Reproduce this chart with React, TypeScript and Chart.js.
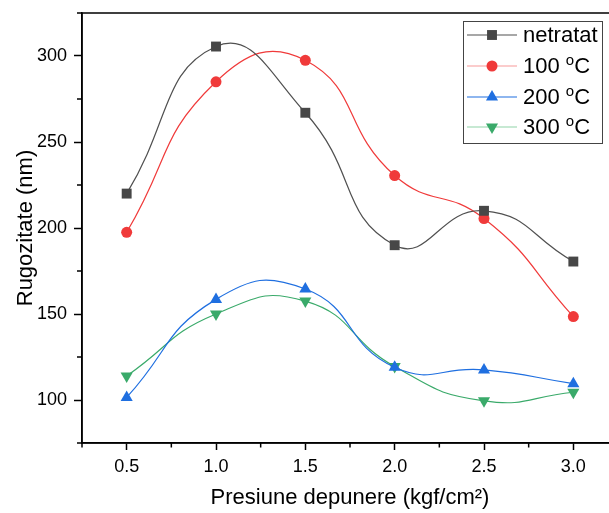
import React, { useEffect, useRef } from "react";
import { Chart, registerables } from "chart.js";

Chart.register(...registerables);

const pressures = [0.5, 1.0, 1.5, 2.0, 2.5, 3.0];
const netratat = [220, 305.5, 267, 190, 210, 180.5];
const t100 = [197.5, 285, 297.5, 230.5, 205.5, 148.5];
const t200 = [101.5, 158.5, 164.5, 119, 117.5, 109.5];
const t300 = [114, 150, 157.5, 119.5, 99.5, 104.5];
const xMajorTicks = [0.5, 1.0, 1.5, 2.0, 2.5, 3.0];
const xMinorTicks = [0.25, 0.75, 1.25, 1.75, 2.25, 2.75, 3.25];
const yMajorTicks = [100, 150, 200, 250, 300];
const yMinorTicks = [75, 125, 175, 225, 275, 325];
const seriesNames = ["netratat", "100", "200", "300"];

const FONT = "'Liberation Sans', Arial, sans-serif";

const styles = [
  { line: "#505050", fill: "#474747", legendLine: "#505050", shape: "rect", radius: 7, rotation: 0 },
  { line: "#f03a3a", fill: "#f03a3a", legendLine: "#f79a9a", shape: "circle", radius: 5.5, rotation: 0 },
  { line: "#1f6fe0", fill: "#1f6fe0", legendLine: "#1f6fe0", shape: "triangle", radius: 7, rotation: 0 },
  { line: "#3aaa6a", fill: "#3aaa6a", legendLine: "#8fd3a8", shape: "triangle", radius: 7, rotation: 180 },
];

function drawMarker(ctx: CanvasRenderingContext2D, shape: string, r: number, rot: number, x: number, y: number) {
  ctx.beginPath();
  if (shape === "rect") {
    const s = Math.SQRT1_2 * r;
    ctx.rect(x - s, y - s, 2 * s, 2 * s);
  } else if (shape === "circle") {
    ctx.arc(x, y, r, 0, Math.PI * 2);
  } else {
    const dir = rot === 180 ? -1 : 1;
    const w = Math.cos(Math.PI / 6) * r;
    ctx.moveTo(x, y - dir * r);
    ctx.lineTo(x - w, y + dir * r * 0.5);
    ctx.lineTo(x + w, y + dir * r * 0.5);
    ctx.closePath();
  }
  ctx.fill();
}

const frameAndLegend = {
  id: "frameAndLegend",
  afterDraw(chart: any) {
    const ctx = chart.ctx;
    const a = chart.chartArea;
    const xs = chart.scales.x;
    const ys = chart.scales.y;
    ctx.save();
    ctx.strokeStyle = "#000";
    ctx.lineWidth = 1.5;
    ctx.beginPath();
    xMinorTicks.forEach((v) => {
      const px = xs.getPixelForValue(v);
      ctx.moveTo(px, a.bottom);
      ctx.lineTo(px, a.bottom + 4.5);
    });
    yMinorTicks.forEach((v) => {
      const py = ys.getPixelForValue(v);
      ctx.moveTo(a.left, py);
      ctx.lineTo(a.left - 5, py);
    });
    ctx.stroke();
    ctx.lineWidth = 1.5;
    ctx.strokeRect(a.left, a.top, a.right - a.left, a.bottom - a.top);

    // legend
    const bx = 463, by = 21, bw = 139, bh = 122;
    ctx.fillStyle = "#fff";
    ctx.fillRect(bx, by, bw, bh);
    ctx.strokeStyle = "#444";
    ctx.lineWidth = 1;
    ctx.strokeRect(bx + 0.5, by + 0.5, bw, bh);
    const rows = [35, 66, 97, 127];
    rows.forEach((ry, i) => {
      const st = styles[i];
      ctx.strokeStyle = st.legendLine;
      ctx.lineWidth = 1.2;
      ctx.beginPath();
      ctx.moveTo(467, ry);
      ctx.lineTo(517, ry);
      ctx.stroke();
      ctx.fillStyle = st.fill;
      drawMarker(ctx, st.shape, st.radius, st.rotation, 492, ry);
      ctx.fillStyle = "#000";
      ctx.textBaseline = "middle";
      ctx.textAlign = "left";
      ctx.font = `22px ${FONT}`;
      if (i === 0) {
        ctx.fillText(seriesNames[0], 523, ry + 1);
      } else {
        const t = seriesNames[i] + " ";
        ctx.fillText(t, 523, ry + 1);
        let w = ctx.measureText(t).width;
        ctx.font = `15px ${FONT}`;
        ctx.fillText("o", 523 + w, ry - 5);
        w += ctx.measureText("o").width;
        ctx.font = `22px ${FONT}`;
        ctx.fillText("C", 523 + w, ry + 1);
      }
    });
    ctx.restore();
  },
};

export default function App() {
  const ref = useRef<HTMLCanvasElement | null>(null);
  useEffect(() => {
    if (!ref.current) return;
    const all = [netratat, t100, t200, t300];
    const chart = new Chart(ref.current, {
      type: "line",
      data: {
        datasets: all.map((vals, i) => ({
          label: seriesNames[i],
          data: pressures.map((p, j) => ({ x: p, y: vals[j] })),
          borderColor: styles[i].line,
          backgroundColor: styles[i].fill,
          pointBackgroundColor: styles[i].fill,
          pointBorderColor: styles[i].fill,
          pointBorderWidth: 0,
          borderWidth: 1.2,
          pointStyle: styles[i].shape as any,
          pointRadius: styles[i].radius,
          pointRotation: styles[i].rotation,
          tension: 0.5,
          fill: false,
        })),
      },
      options: {
        animation: false,
        responsive: false,
        layout: { padding: { top: 13, right: 0, left: 0, bottom: 0 } },
        plugins: { legend: { display: false }, tooltip: { enabled: false } },
        scales: {
          x: {
            type: "linear",
            min: 0.25,
            max: 3.25,
            afterBuildTicks: (s: any) => {
              s.ticks = xMajorTicks.map((v) => ({ value: v }));
            },
            afterFit: (s: any) => {
              s.height = 70;
              s.paddingLeft = 0;
              s.paddingRight = 0;
            },
            ticks: {
              color: "#000",
              font: { family: FONT, size: 18 },
              padding: 6,
              maxRotation: 0,
              callback: (v: any) => Number(v).toFixed(1),
            },
            grid: { drawOnChartArea: false, tickLength: 7, tickWidth: 1.5, tickColor: "#000" },
            border: { color: "#000", width: 1.5 },
            title: {
              display: true,
              text: "Presiune depunere (kgf/cm²)",
              color: "#000",
              font: { family: FONT, size: 22 },
              padding: { top: 0, bottom: 2 },
            },
          },
          y: {
            type: "linear",
            min: 75,
            max: 325,
            afterBuildTicks: (s: any) => {
              s.ticks = yMajorTicks.map((v) => ({ value: v }));
            },
            afterFit: (s: any) => {
              s.width = 82;
              s.paddingTop = 0;
              s.paddingBottom = 0;
            },
            ticks: {
              color: "#000",
              font: { family: FONT, size: 18 },
              padding: 7,
              callback: (v: any) => String(v),
            },
            grid: { drawOnChartArea: false, tickLength: 8, tickWidth: 1.5, tickColor: "#000" },
            border: { color: "#000", width: 1.5 },
            title: {
              display: true,
              text: "Rugozitate (nm)",
              color: "#000",
              font: { family: FONT, size: 22 },
              padding: { top: 13, bottom: 0 },
            },
          },
        },
      },
      plugins: [frameAndLegend],
    });
    return () => chart.destroy();
  }, []);
  return (
    <div style={{ position: "fixed", left: 0, top: 0, width: 609, height: 513, overflow: "hidden", background: "#fff" }}>
      <canvas ref={ref} width={625} height={513} style={{ width: 625, height: 513, display: "block" }} />
    </div>
  );
}
